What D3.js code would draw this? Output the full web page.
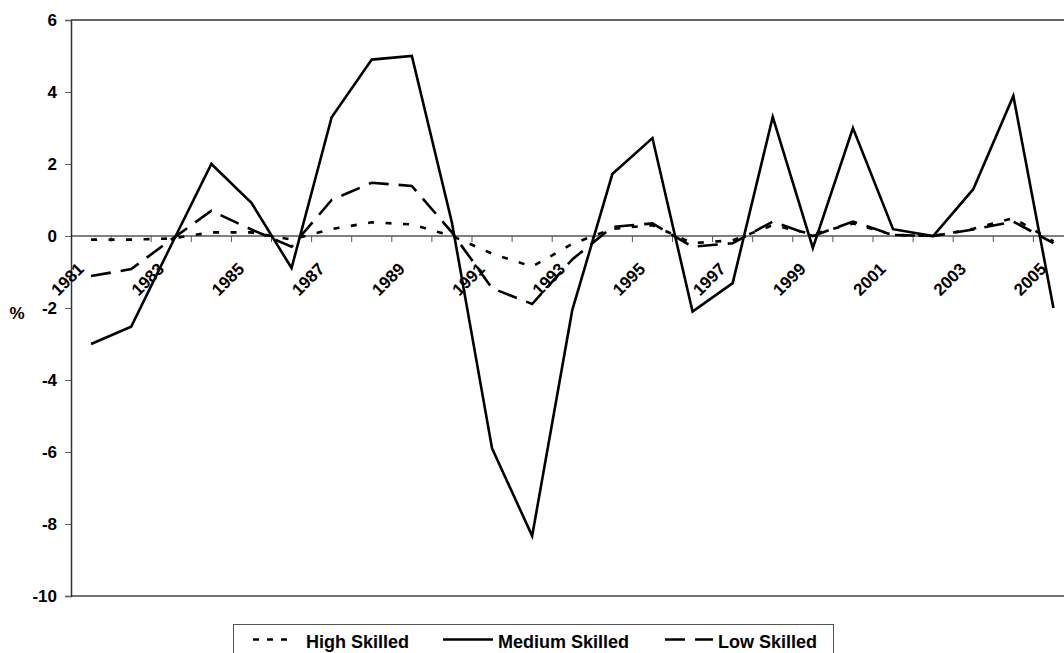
<!DOCTYPE html>
<html>
<head>
<meta charset="utf-8">
<script src="https://cdn.jsdelivr.net/npm/d3@7"></script>
<style>
  html, body { margin: 0; padding: 0; background: #fff; }
  svg { display: block; }
  text { font-family: "Liberation Sans", Arial, sans-serif; font-weight: bold; fill: #000; }
</style>
</head>
<body>
<svg id="chart" width="1064" height="653"></svg>
<script>
const years = [1981,1982,1983,1984,1985,1986,1987,1988,1989,1990,1991,1992,1993,1994,1995,1996,1997,1998,1999,2000,2001,2002,2003,2004,2005];
const highSkilled   = [-0.1,-0.1,-0.07,0.1,0.1,-0.1,0.19,0.38,0.32,0.0,-0.49,-0.85,-0.22,0.2,0.3,-0.2,-0.12,0.3,0.05,0.35,0.03,0.0,0.2,0.5,-0.15];
const mediumSkilled = [-3.0,-2.52,-0.25,2.0,0.92,-0.89,3.3,4.9,5.0,0.37,-5.9,-8.33,-2.06,1.72,2.72,-2.1,-1.31,3.31,-0.33,3.0,0.19,0.0,1.3,3.89,-2.0];
const lowSkilled    = [-1.11,-0.92,-0.1,0.7,0.18,-0.3,1.0,1.48,1.39,0.1,-1.45,-1.89,-0.65,0.25,0.35,-0.3,-0.2,0.4,0.0,0.4,0.03,0.0,0.18,0.4,-0.2];
const yTicks = [-10,-8,-6,-4,-2,0,2,4,6];
const xLabelYears = [1981,1983,1985,1987,1989,1991,1993,1995,1997,1999,2001,2003,2005];
const seriesNames = ["High Skilled","Medium Skilled","Low Skilled"];

const svg = d3.select("#chart");
const mLeft = 71, mTop = 20, mBottom = 596, band = 40.1;
const x = d3.scaleBand().domain(years).range([mLeft, mLeft + years.length * band]).padding(0);
const y = d3.scaleLinear().domain([-10, 6]).range([mBottom, mTop]);
const cx = d => x(d) + x.bandwidth() / 2;

// frame lines (top & bottom)
svg.append("line").attr("x1", mLeft).attr("x2", 1064).attr("y1", y(6)).attr("y2", y(6))
  .attr("stroke", "#333").attr("stroke-width", 1.3);
svg.append("line").attr("x1", mLeft).attr("x2", 1064).attr("y1", y(-10)).attr("y2", y(-10))
  .attr("stroke", "#444").attr("stroke-width", 1.3);

// y axis
const yAxis = svg.append("g").attr("transform", `translate(${mLeft},0)`)
  .call(d3.axisLeft(y).tickValues(yTicks).tickSize(6).tickPadding(8).tickFormat(d => String(d)));
yAxis.select(".domain").attr("stroke", "#333").attr("stroke-width", 1.5);
yAxis.selectAll(".tick line").attr("stroke", "#666");
yAxis.selectAll(".tick text").style("font-size", "17px").style("font-family", "Liberation Sans, Arial, sans-serif")
  .style("font-weight", "bold").attr("fill", "#000");

// % label
svg.append("text").attr("x", 17).attr("y", 313).attr("text-anchor", "middle")
  .attr("dominant-baseline", "central").style("font-size", "17px").text("%");

// zero line
svg.append("line").attr("x1", mLeft).attr("x2", 1064).attr("y1", y(0)).attr("y2", y(0))
  .attr("stroke", "#000").attr("stroke-width", 1);

// x ticks at category boundaries
svg.append("g").selectAll("line").data(years.slice(1)).join("line")
  .attr("x1", d => x(d)).attr("x2", d => x(d))
  .attr("y1", y(0)).attr("y2", y(0) + 6)
  .attr("stroke", "#555").attr("stroke-width", 1);

// x labels
svg.append("g").selectAll("text").data(xLabelYears).join("text")
  .attr("transform", d => `translate(${cx(d) - 6},${y(0) + 34}) rotate(-45)`)
  .attr("text-anchor", "end")
  .style("font-size", "17px")
  .text(d => d);

// lines
const line = d3.line().x((d, i) => cx(years[i])).y(d => y(d));
const styles = [
  { data: highSkilled, dash: "6,11.5" },
  { data: mediumSkilled, dash: null },
  { data: lowSkilled, dash: "20,10" }
];
styles.forEach(s => {
  svg.append("path").datum(s.data).attr("d", line)
    .attr("fill", "none").attr("stroke", "#000").attr("stroke-width", 2.6)
    .attr("stroke-linejoin", "miter")
    .attr("stroke-dasharray", s.dash);
});

// legend
svg.append("rect").attr("x", 233.5).attr("y", 624.5).attr("width", 600).attr("height", 40)
  .attr("fill", "#fff").attr("stroke", "#555").attr("stroke-width", 1);
const legendItems = [
  { name: seriesNames[0], x1: 253, x2: 290, tx: 306, dash: "6,8" },
  { name: seriesNames[1], x1: 443, x2: 493, tx: 498, dash: null },
  { name: seriesNames[2], x1: 665, x2: 713, tx: 718, dash: "20,10" }
];
legendItems.forEach(it => {
  svg.append("line").attr("x1", it.x1).attr("x2", it.x2).attr("y1", 639.5).attr("y2", 639.5)
    .attr("stroke", "#000").attr("stroke-width", 2.6).attr("stroke-dasharray", it.dash);
  svg.append("text").attr("x", it.tx).attr("y", 648).style("font-size", "18px").text(it.name);
});
</script>
</body>
</html>
